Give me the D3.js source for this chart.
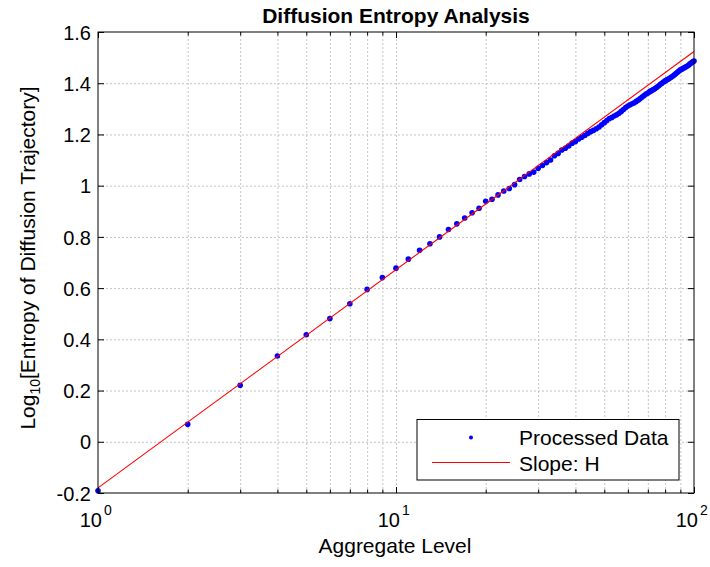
<!DOCTYPE html>
<html>
<head>
<meta charset="utf-8">
<script src="https://cdn.jsdelivr.net/npm/d3@7"></script>
<style>
  body { margin: 0; background: #fff; }
  text { font-family: "Liberation Sans", Arial, Helvetica, sans-serif; fill: #000; }
</style>
</head>
<body>
<svg id="chart" width="710" height="567"></svg>
<script>
// Aggregate levels (scale of the diffusion window)
const aggregateLevels = [
  1, 2, 3, 4, 5, 6, 7, 8, 9, 10,
  11, 12, 13, 14, 15, 16, 17, 18, 19, 20,
  21, 22, 23, 24, 25, 26, 27, 28, 29, 30,
  31, 32, 33, 34, 35, 36, 37, 38, 39, 40,
  41, 42, 43, 44, 45, 46, 47, 48, 49, 50,
  51, 52, 53, 54, 55, 56, 57, 58, 59, 60,
  61, 62, 63, 64, 65, 66, 67, 68, 69, 70,
  71, 72, 73, 74, 75, 76, 77, 78, 79, 80,
  81, 82, 83, 84, 85, 86, 87, 88, 89, 90,
  91, 92, 93, 94, 95, 96, 97, 98, 99, 100
];

// log10 of the diffusion-trajectory entropy at each aggregate level
const entropyLog10 = [
  -0.191, 0.068, 0.221, 0.335, 0.418, 0.481, 0.539, 0.595, 0.641, 0.678,
  0.713, 0.748, 0.773, 0.800, 0.829, 0.851, 0.874, 0.894, 0.912, 0.939,
  0.947, 0.964, 0.979, 0.989, 1.004, 1.024, 1.036, 1.046, 1.053, 1.068,
  1.079, 1.090, 1.100, 1.117, 1.126, 1.139, 1.146, 1.155, 1.166, 1.172,
  1.182, 1.189, 1.196, 1.204, 1.211, 1.216, 1.222, 1.229, 1.238, 1.246,
  1.254, 1.262, 1.266, 1.272, 1.277, 1.283, 1.290, 1.297, 1.305, 1.311,
  1.316, 1.320, 1.324, 1.329, 1.334, 1.340, 1.346, 1.352, 1.358, 1.362,
  1.367, 1.371, 1.375, 1.379, 1.384, 1.389, 1.395, 1.400, 1.405, 1.409,
  1.413, 1.416, 1.420, 1.424, 1.428, 1.433, 1.438, 1.443, 1.448, 1.452,
  1.455, 1.458, 1.461, 1.464, 1.467, 1.471, 1.476, 1.480, 1.484, 1.487
];

// Fitted straight line (slope H) at the two ends of the range
const fitLineLevels = [1, 100];
const fitLineValues = [-0.18, 1.524];

const yTickValues = [-0.2, 0, 0.2, 0.4, 0.6, 0.8, 1, 1.2, 1.4, 1.6];
const yTickLabels = ["-0.2", "0", "0.2", "0.4", "0.6", "0.8", "1", "1.2", "1.4", "1.6"];
const xMajorTicks = [1, 10, 100];
const xTickBases = ["10", "10", "10"];
const xTickExponents = ["0", "1", "2"];
const xMinorTicks = [2, 3, 4, 5, 6, 7, 8, 9, 20, 30, 40, 50, 60, 70, 80, 90];

const legendLabels = ["Processed Data", "Slope: H"];

const W = 710, H = 567;
const plot = { left: 98, right: 694, top: 32, bottom: 493 };
const FS = 21;      // labels, title, legend
const TICK_FS = 20; // tick numbers
const SUP_FS = 14;  // exponents / subscripts

const svg = d3.select("#chart");
svg.append("rect").attr("width", W).attr("height", H).attr("fill", "#fff");

const x = d3.scaleLog().domain([1, 100]).range([plot.left, plot.right]);
const y = d3.scaleLinear().domain([-0.2, 1.6]).range([plot.bottom, plot.top]);
const plotW = plot.right - plot.left, plotH = plot.bottom - plot.top;

// Dotted grid
const gridStyle = g => {
  g.select(".domain").remove();
  g.selectAll(".tick line")
    .attr("stroke", "#c4c4c4").attr("stroke-width", 1).attr("stroke-dasharray", "2,2");
  g.selectAll(".tick text").remove();
};
svg.append("g")
  .attr("transform", `translate(0,${plot.bottom})`)
  .call(d3.axisBottom(x).tickValues(xMinorTicks.concat([10])).tickSize(-plotH).tickFormat(""))
  .call(gridStyle);
svg.append("g")
  .attr("transform", `translate(${plot.left},0)`)
  .call(d3.axisLeft(y).tickValues(yTickValues.slice(1, -1)).tickSize(-plotW).tickFormat(""))
  .call(gridStyle);

// Data points
svg.append("g").selectAll("circle")
  .data(aggregateLevels)
  .join("circle")
  .attr("cx", (d) => x(d))
  .attr("cy", (d, i) => y(entropyLog10[i]))
  .attr("r", 2.8)
  .attr("fill", "#0000ff");

// Fitted line
const line = d3.line().x(d => x(d[0])).y(d => y(d[1]));
svg.append("path")
  .datum(fitLineLevels.map((v, i) => [v, fitLineValues[i]]))
  .attr("d", line)
  .attr("fill", "none")
  .attr("stroke", "#ff0000")
  .attr("stroke-width", 1.1);

// Axes box
svg.append("rect")
  .attr("x", plot.left).attr("y", plot.top)
  .attr("width", plotW).attr("height", plotH)
  .attr("fill", "none").attr("stroke", "#000").attr("stroke-width", 1);

// Tick marks (inside) on all four sides
const tickStyle = g => {
  g.select(".domain").remove();
  g.selectAll(".tick line").attr("stroke", "#000").attr("stroke-width", 1);
};
const yLeft = svg.append("g")
  .attr("transform", `translate(${plot.left},0)`)
  .call(d3.axisLeft(y).tickValues(yTickValues)
    .tickFormat((d, i) => yTickLabels[i]).tickSizeInner(-6).tickSizeOuter(0).tickPadding(7))
  .call(tickStyle);
yLeft.selectAll(".tick text")
  .attr("font-size", TICK_FS).attr("font-family", null).attr("fill", "#000").attr("dy", "0.36em");
svg.append("g")
  .attr("transform", `translate(${plot.right},0)`)
  .call(d3.axisRight(y).tickValues(yTickValues).tickFormat("").tickSizeInner(-6).tickSizeOuter(0))
  .call(tickStyle);

[[d3.axisBottom, plot.bottom], [d3.axisTop, plot.top]].forEach(([axisFn, ty]) => {
  svg.append("g")
    .attr("transform", `translate(0,${ty})`)
    .call(axisFn(x).tickValues(xMinorTicks).tickFormat("").tickSizeInner(-3.5).tickSizeOuter(0))
    .call(tickStyle);
  svg.append("g")
    .attr("transform", `translate(0,${ty})`)
    .call(axisFn(x).tickValues(xMajorTicks).tickFormat("").tickSizeInner(-6).tickSizeOuter(0))
    .call(tickStyle);
});

// X tick labels as powers of ten
const xLab = svg.append("g").selectAll("g")
  .data(xMajorTicks)
  .join("g")
  .attr("transform", d => `translate(${x(d)},0)`);
xLab.append("text")
  .attr("x", 4).attr("y", 527)
  .attr("text-anchor", "end")
  .attr("font-size", TICK_FS)
  .text((d, i) => xTickBases[i]);
xLab.append("text")
  .attr("x", 6).attr("y", 515)
  .attr("text-anchor", "start")
  .attr("font-size", SUP_FS)
  .text((d, i) => xTickExponents[i]);

// Title
svg.append("text")
  .attr("x", (plot.left + plot.right) / 2).attr("y", 23)
  .attr("text-anchor", "middle")
  .attr("font-size", FS).attr("font-weight", "bold")
  .text("Diffusion Entropy Analysis");

// Axis labels
svg.append("text")
  .attr("x", 395).attr("y", 553)
  .attr("text-anchor", "middle")
  .attr("font-size", FS)
  .text("Aggregate Level");

const yl = svg.append("text")
  .attr("transform", "translate(35,258) rotate(-90)")
  .attr("text-anchor", "middle")
  .attr("font-size", FS);
yl.append("tspan").text("Log");
yl.append("tspan").attr("font-size", SUP_FS).attr("dy", 5).text("10");
yl.append("tspan").attr("dy", -5).text("[Entropy of Diffusion Trajectory]");

// Legend
const lg = svg.append("g");
lg.append("rect")
  .attr("x", 417).attr("y", 419.5).attr("width", 262).attr("height", 60.5)
  .attr("fill", "#fff").attr("stroke", "#000").attr("stroke-width", 1);
lg.append("circle").attr("cx", 471).attr("cy", 437.5).attr("r", 2).attr("fill", "#0000ff");
lg.append("line")
  .attr("x1", 432).attr("x2", 510).attr("y1", 462.5).attr("y2", 462.5)
  .attr("stroke", "#ff0000").attr("stroke-width", 1.1);
lg.append("text").attr("x", 519).attr("y", 444.5).attr("font-size", FS).text(legendLabels[0]);
lg.append("text").attr("x", 519).attr("y", 471).attr("font-size", FS).text(legendLabels[1]);
</script>
</body>
</html>
